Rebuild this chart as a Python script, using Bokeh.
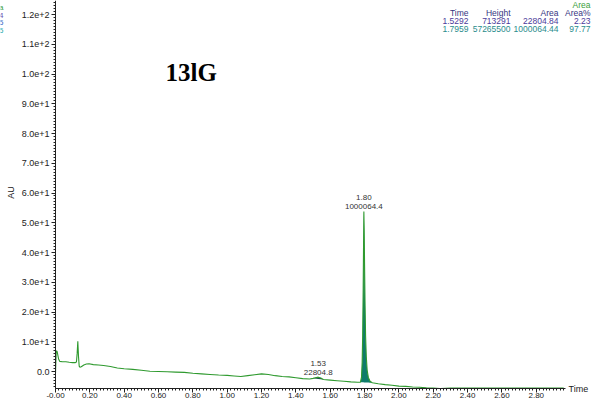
import numpy as np
from bokeh.plotting import figure
from bokeh.models import Range1d, SingleIntervalTicker, CustomJSTickFormatter, Label
from bokeh.embed import file_html
from bokeh.resources import INLINE

# ---- chromatogram trace (Time in min, AU) ----
time = [0.000, 0.004, 0.006, 0.010, 0.018, 0.025, 0.04, 0.06, 0.08, 0.10, 0.116, 0.122,
        0.126, 0.130, 0.134, 0.138, 0.142, 0.15, 0.165, 0.18, 0.195, 0.22, 0.25, 0.28,
        0.32, 0.36, 0.40, 0.45, 0.50, 0.55, 0.60, 0.65, 0.70, 0.75, 0.80, 0.85, 0.90,
        0.95, 1.00, 1.04, 1.08, 1.12, 1.16, 1.20, 1.24, 1.28, 1.32, 1.36, 1.40, 1.44,
        1.48, 1.50, 1.52, 1.53, 1.545, 1.56, 1.60, 1.64, 1.68, 1.72, 1.76, 1.776, 1.782,
        1.786, 1.789, 1.792, 1.794, 1.796, 1.798, 1.800, 1.803, 1.806, 1.810, 1.815,
        1.822, 1.832, 1.845, 1.88, 1.92, 1.96, 2.00, 2.04, 2.08, 2.12, 2.16, 2.20, 2.24,
        2.30, 2.40, 2.50, 2.60, 2.70, 2.80, 2.90, 2.96]
au = [-0.6, 6.5, 7.0, 6.6, 4.2, 3.4, 3.3, 3.3, 3.1, 3.0, 3.0, 3.2,
      6.0, 10.2, 5.0, 1.8, 1.4, 1.6, 2.2, 2.5, 2.6, 2.3, 2.2, 2.0,
      1.7, 1.2, 0.9, 0.7, 0.4, 0.1, 0.0, -0.1, -0.2, -0.3, -0.6, -0.8, -1.0,
      -1.2, -1.3, -1.5, -1.7, -1.4, -1.1, -0.8, -1.0, -1.4, -1.7, -1.8, -2.1, -2.4,
      -2.5, -2.3, -2.0, -1.9, -2.2, -2.7, -2.9, -3.1, -3.3, -3.5, -3.6, -3.6, -2.0,
      3.0, 12.0, 28.0, 42.0, 53.8, 47.0, 36.0, 22.0, 12.0, 5.0, 0.5,
      -2.0, -3.3, -3.8, -4.1, -4.4, -4.6, -4.9, -5.0, -5.2, -5.3, -5.5, -5.6, -5.7,
      -5.6, -5.6, -5.6, -5.6, -5.6, -5.6, -5.6, -5.6]

# ---- integrated peaks ----
peak_start = [1.50, 1.776]
peak_end = [1.56, 1.845]
peak_rt_labels = ["1.53", "1.80"]
peak_area_labels = ["22804.8", "1000064.4"]
peak_fill = ["#1d4f4a", "#0e7c6b"]

# ---- peak table ----
table_cols = ["Time", "Height", "Area", "Area%"]
table_row1 = ["1.5292", "713291", "22804.84", "2.23"]
table_row2 = ["1.7959", "57265500", "1000064.44", "97.77"]

title_text = "13lG"

# axis extents of the original plot
x_axis_min, x_axis_max = 0.0, 2.97
y_axis_min, y_axis_max = -5.7, 124.7

t = np.array(time)
a = np.array(au)

W, H = 603, 407
p = figure(width=W, height=H,
           x_range=Range1d(-0.3203, 3.1916), y_range=Range1d(-12.10, 124.71),
           output_backend="svg", toolbar_location=None, min_border=0)
p.grid.visible = False
p.outline_line_color = None
p.background_fill_color = "white"
p.border_fill_color = "white"

FONT = "Liberation Sans"
AX = "#222222"

# x axis
xa = p.xaxis[0]
xa.fixed_location = y_axis_min
xa.bounds = (x_axis_min, x_axis_max)
xa.ticker = SingleIntervalTicker(interval=0.2, num_minor_ticks=10)
xa.formatter = CustomJSTickFormatter(code="return Math.abs(tick) < 1e-9 ? '-0.00' : tick.toFixed(2);")
xa.major_label_text_font = FONT
xa.major_label_text_font_size = "8px"
xa.major_label_text_color = AX
xa.major_tick_out = 4
xa.major_tick_in = 0
xa.minor_tick_out = 2
xa.minor_tick_in = 0
xa.major_label_standoff = 1
xa.axis_line_color = AX
xa.major_tick_line_color = AX
xa.minor_tick_line_color = AX

# y axis
ya = p.yaxis[0]
ya.fixed_location = x_axis_min
ya.bounds = (y_axis_min, y_axis_max)
ya.ticker = SingleIntervalTicker(interval=10, num_minor_ticks=10)
ya.formatter = CustomJSTickFormatter(code="return tick == 0 ? '0.0' : tick.toExponential(1);")
ya.major_label_text_font = FONT
ya.major_label_text_font_size = "9px"
ya.major_label_text_color = AX
ya.major_tick_out = 4
ya.major_tick_in = 0
ya.minor_tick_out = 2
ya.minor_tick_in = 0
ya.major_label_standoff = 2
ya.axis_line_color = AX
ya.major_tick_line_color = AX
ya.minor_tick_line_color = AX


def put(text, px, py, color=AX, size="9px", align="left", font=FONT, style="normal", angle=0.0):
    """place a text at page pixel (px, py) measured from top-left"""
    p.add_layout(Label(x=px, y=H - py, x_units="screen", y_units="screen", text=text,
                       text_font=font, text_font_size=size, text_color=color,
                       text_font_style=style, text_align=align, text_baseline="middle",
                       angle=angle))


# peak fills
for s, e, col in zip(peak_start, peak_end, peak_fill):
    m = (t >= s) & (t <= e)
    xs = t[m]
    ys = a[m]
    base = np.interp(xs, [xs[0], xs[-1]], [ys[0], ys[-1]])
    p.varea(x=xs, y1=base, y2=ys, fill_color=col, fill_alpha=1.0)

# trace
p.line(t, a, line_color="#2f9a2f", line_width=1.1)

# peak labels
for s, e, rt, ar in zip(peak_start, peak_end, peak_rt_labels, peak_area_labels):
    m = (t >= s) & (t <= e)
    i = np.argmax(a[m])
    px, py = t[m][i], a[m][i]
    p.text(x=[px], y=[py], text=[ar], text_align="center", text_baseline="bottom",
           y_offset=-2, text_font_size="8px", text_color="#333333",
           text_font={"value": FONT})
    p.text(x=[px], y=[py], text=[rt], text_align="center", text_baseline="bottom",
           y_offset=-11, text_font_size="8px", text_color="#333333",
           text_font={"value": FONT})

# axis title and end label
put("AU", 10, 192, angle=np.pi / 2, align="center")
put("Time", 568, 388, size="9px")

# title
put(title_text, 165, 72, color="black", size="25px", font="Liberation Serif", style="bold")

# cut-off legend fragments at the left edge
put("a", 3, 7, color="#3aa03a", size="8px", align="right")
put("4", 3, 15, color="#6a4fb0", size="8px", align="right")
put("5", 3, 22, color="#3a66c4", size="8px", align="right")
put("5", 3, 30, color="#2aa7a7", size="8px", align="right")

# peak table
col_right = [468, 510, 558, 590]
put("Area", col_right[3], 4, color="#3aa03a", size="8.5px", align="right")
rows = [(table_cols, 12, "#35357f"), (table_row1, 20, "#4b3a9a"), (table_row2, 28, "#2a8c8c")]
for vals, yy, col in rows:
    for xx, v in zip(col_right, vals):
        put(v, xx, yy, color=col, size="8.5px", align="right")

open("out.html", "w").write(file_html(p, INLINE))
